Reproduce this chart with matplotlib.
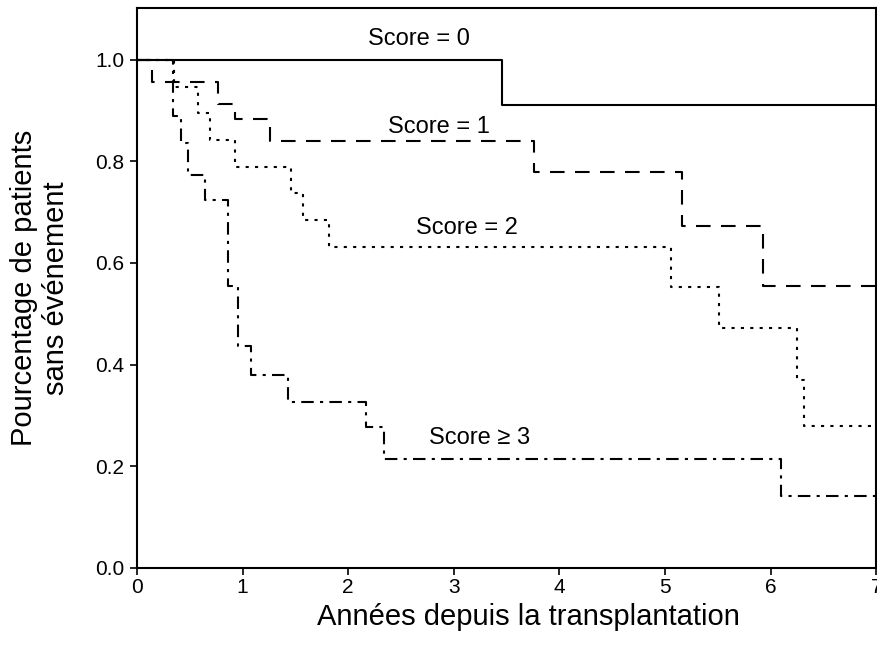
import matplotlib
matplotlib.use("Agg")
import matplotlib.pyplot as plt

plt.rcParams['font.family'] = ['Liberation Sans', 'DejaVu Sans']

# Kaplan-Meier steps (time in years, fraction event-free)
t_score0 = [0, 3.46, 7]
s_score0 = [1.0, 0.91, 0.91]

t_score1 = [0, 0.14, 0.77, 0.93, 1.26, 3.76, 5.16, 5.93, 7]
s_score1 = [1.0, 0.957, 0.913, 0.884, 0.839, 0.779, 0.672, 0.555, 0.555]

t_score2 = [0, 0.35, 0.58, 0.69, 0.93, 1.46, 1.57, 1.82, 5.06, 5.51, 6.25, 6.32, 7]
s_score2 = [1.0, 0.947, 0.895, 0.842, 0.789, 0.737, 0.684, 0.632, 0.553, 0.472, 0.37, 0.28, 0.28]

t_score3 = [0, 0.345, 0.42, 0.485, 0.64, 0.86, 0.96, 1.08, 1.43, 2.17, 2.34, 6.1, 7]
s_score3 = [1.0, 0.889, 0.836, 0.774, 0.724, 0.554, 0.436, 0.38, 0.327, 0.278, 0.215, 0.142, 0.142]

labels = ['Score = 0', 'Score = 1', 'Score = 2', 'Score \u2265 3']
label_pos = [(2.67, 1.04), (2.86, 0.868), (3.12, 0.669), (3.24, 0.256)]

fig = plt.figure(figsize=(8.78, 6.52), dpi=100)
ax = fig.add_axes([0.156, 0.129, 0.842, 0.859])

lw = 1.5
ax.step(t_score0, s_score0, where='post', color='black', lw=lw, ls='-')
ax.step(t_score1, s_score1, where='post', color='black', lw=lw, ls=(0, (7, 5)))
ax.step(t_score2, s_score2, where='post', color='black', lw=lw, ls=(0, (1.5, 3)))
ax.step(t_score3, s_score3, where='post', color='black', lw=lw, ls=(0, (6, 3, 1.5, 3)))

for lab, (x, y) in zip(labels, label_pos):
    ax.text(x, y, lab, ha='center', va='center', fontsize=17)

ax.set_xlim(0, 7)
ax.set_ylim(0, 1.102)
ax.set_xticks(range(0, 8))
ax.set_yticks([0.0, 0.2, 0.4, 0.6, 0.8, 1.0])
ax.set_yticklabels(['0.0', '0.2', '0.4', '0.6', '0.8', '1.0'])
ax.tick_params(direction='out', length=5, width=1.2, labelsize=15, pad=4)
ax.tick_params(axis='x', pad=2)
for sp in ax.spines.values():
    sp.set_linewidth(1.5)

ax.set_xlabel('Ann\u00e9es depuis la transplantation', fontsize=21)
ax.xaxis.set_label_coords(0.53, -0.062)
ax.set_ylabel('Pourcentage de patients\nsans \u00e9v\u00e9nement', fontsize=21, labelpad=18)

plt.savefig('out.png', dpi=100)
